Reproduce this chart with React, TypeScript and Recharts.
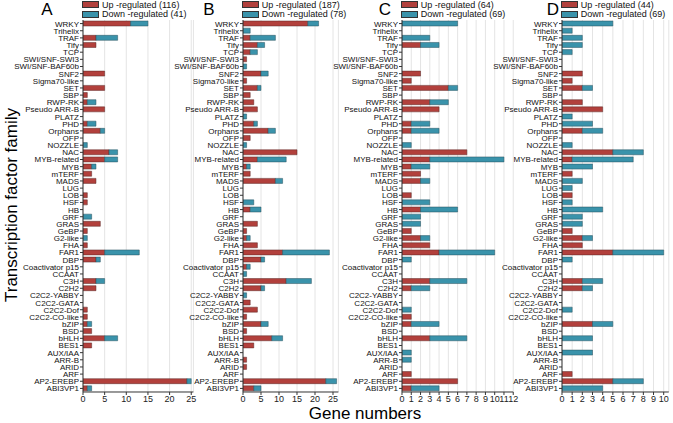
import { Bar, BarChart, CartesianGrid, XAxis, YAxis } from 'recharts'

const families = [
  'WRKY', 'Trihelix', 'TRAF', 'Tify', 'TCP', 'SWI/SNF-SWI3', 'SWI/SNF-BAF60b', 'SNF2',
  'Sigma70-like', 'SET', 'SBP', 'RWP-RK', 'Pseudo ARR-B', 'PLATZ', 'PHD', 'Orphans', 'OFP',
  'NOZZLE', 'NAC', 'MYB-related', 'MYB', 'mTERF', 'MADS', 'LUG', 'LOB', 'HSF', 'HB', 'GRF',
  'GRAS', 'GeBP', 'G2-like', 'FHA', 'FAR1', 'DBP', 'Coactivator p15', 'CCAAT', 'C3H', 'C2H2',
  'C2C2-YABBY', 'C2C2-GATA', 'C2C2-Dof', 'C2C2-CO-like', 'bZIP', 'BSD', 'bHLH', 'BES1',
  'AUX/IAA', 'ARR-B', 'ARID', 'ARF', 'AP2-EREBP', 'ABI3VP1',
]

// one value per family, same order as above
const upA = [11, 0, 3, 3, 0, 0, 0, 5, 0, 5, 1, 1, 5, 0, 1, 4, 0, 0, 6, 5, 2, 2, 3, 0, 1, 1, 0, 0, 4, 1, 0, 1, 5, 3, 0, 0, 3, 3, 0, 0, 1, 1, 1, 2, 5, 2, 0, 0, 0, 0, 24, 1]
const downA = [4, 0, 5, 0, 0, 0, 0, 0, 0, 0, 0, 2, 0, 0, 2, 1, 0, 1, 2, 3, 1, 0, 0, 0, 0, 0, 0, 2, 0, 0, 1, 0, 8, 1, 0, 0, 2, 0, 0, 0, 0, 0, 1, 0, 3, 0, 0, 0, 0, 0, 1, 1]
const upB = [18, 0, 2, 4, 2, 1, 0, 5, 1, 4, 2, 3, 4, 0, 3, 7, 2, 0, 15, 4, 1, 2, 9, 0, 0, 0, 2, 0, 4, 1, 1, 4, 11, 5, 1, 0, 12, 5, 0, 2, 4, 1, 5, 1, 8, 3, 0, 1, 1, 0, 23, 3]
const downB = [3, 2, 7, 2, 2, 0, 1, 2, 0, 1, 0, 0, 0, 1, 1, 2, 0, 1, 0, 8, 1, 0, 2, 0, 0, 3, 3, 0, 0, 0, 1, 0, 13, 1, 1, 1, 7, 1, 1, 0, 0, 0, 2, 0, 3, 0, 0, 0, 0, 0, 3, 2]
const upC = [0, 0, 0, 2, 0, 0, 0, 2, 1, 5, 0, 3, 4, 0, 1, 1, 0, 0, 7, 3, 1, 2, 2, 0, 1, 0, 2, 0, 0, 1, 2, 3, 4, 0, 0, 0, 3, 1, 0, 0, 0, 1, 1, 0, 3, 0, 0, 0, 0, 1, 6, 1]
const downC = [6, 0, 3, 2, 0, 0, 0, 0, 0, 1, 0, 2, 0, 0, 2, 3, 0, 1, 0, 8, 2, 0, 1, 0, 0, 3, 4, 2, 2, 0, 1, 0, 6, 1, 0, 0, 4, 2, 0, 0, 1, 0, 3, 0, 4, 0, 1, 1, 0, 0, 0, 3]
const upD = [0, 0, 0, 0, 0, 0, 0, 2, 1, 2, 0, 2, 4, 0, 0, 2, 0, 0, 5, 1, 0, 1, 0, 0, 1, 0, 0, 0, 0, 1, 2, 2, 5, 0, 0, 0, 2, 2, 0, 0, 0, 0, 3, 0, 0, 0, 0, 0, 0, 1, 5, 0]
const downD = [5, 1, 2, 2, 1, 0, 0, 0, 0, 1, 0, 0, 0, 1, 3, 2, 0, 1, 3, 6, 3, 0, 2, 1, 0, 1, 4, 2, 2, 0, 1, 0, 5, 1, 0, 0, 2, 1, 0, 0, 1, 0, 2, 0, 3, 0, 3, 0, 0, 0, 3, 4]

const ticksWide = [0, 5, 10, 15, 20, 25]
const ticksC = [0, 1, 2, 3, 4, 5, 6, 7, 8, 9, 10, 11, 12]
const ticksD = [0, 1, 2, 3, 4, 5, 6, 7, 8, 9, 10]

const UP = '#b2403c'
const DOWN = '#3a93ab'
const FONT = '"Liberation Sans", Arial, Helvetica, sans-serif'
const W = 673
const H = 423
const AXIS_W = 83
const TOP = 20
const BOTTOM = 392
const RIGHT = 8

const sum = (xs: number[]) => xs.reduce((a, b) => a + b, 0)

// plain one-line label, recharts would otherwise wrap the long names
function FamilyTick({ x, y, payload }: any) {
  return (
    <text x={x} y={y} dy={3} textAnchor="end" fontSize={8} fill="#111">
      {payload.value}
    </text>
  )
}

function LegendRow({ color, label }: { color: string; label: string }) {
  return (
    <div style={{ display: 'flex', alignItems: 'center', height: 9.5, whiteSpace: 'nowrap' }}>
      <span
        style={{
          display: 'inline-block',
          width: 15,
          height: 5,
          background: color,
          border: '1px solid #333',
          marginRight: 3,
        }}
      />
      {label}
    </div>
  )
}

type PanelProps = {
  letter: string
  letterX: number
  up: number[]
  down: number[]
  x0: number
  unit: number
  max: number
  ticks: number[]
}

function Panel({ letter, letterX, up, down, x0, unit, max, ticks }: PanelProps) {
  const data = families.map((name, i) => ({ name, up: up[i], down: down[i] }))
  const plotW = unit * max
  return (
    <>
      <div style={{ position: 'absolute', left: x0 - AXIS_W, top: 0 }}>
        <BarChart
          layout="vertical"
          width={AXIS_W + plotW + RIGHT}
          height={H}
          data={data}
          margin={{ top: TOP, right: RIGHT, bottom: H - BOTTOM - 20, left: 0 }}
          barCategoryGap="14%"
        >
          <CartesianGrid horizontal={false} stroke="#e4e4e4" />
          <XAxis
            type="number"
            domain={[0, max]}
            ticks={ticks}
            interval={0}
            height={20}
            tickSize={3}
            tickMargin={1}
            tick={{ fontSize: 9, fill: '#222' }}
            stroke="#333"
            allowDataOverflow
          />
          <YAxis
            type="category"
            dataKey="name"
            interval={0}
            width={AXIS_W}
            tickSize={3}
            tickMargin={1}
            tick={<FamilyTick />}
            stroke="#333"
          />
          <Bar dataKey="up" stackId="s" fill={UP} stroke="#5a2624" strokeWidth={0.5} isAnimationActive={false} />
          <Bar dataKey="down" stackId="s" fill={DOWN} stroke="#264f5c" strokeWidth={0.5} isAnimationActive={false} />
        </BarChart>
      </div>
      <div style={{ position: 'absolute', left: x0 - 1, top: 0, fontSize: 9, color: '#111' }}>
        <LegendRow color={UP} label={`Up -regulated (${sum(up)})`} />
        <LegendRow color={DOWN} label={`Down -regulated (${sum(down)})`} />
      </div>
      <div
        style={{
          position: 'absolute',
          left: letterX - 10,
          width: 20,
          top: 1,
          textAlign: 'center',
          fontSize: 17,
          lineHeight: '18px',
        }}
      >
        {letter}
      </div>
    </>
  )
}

export default function App() {
  return (
    <div
      style={{
        position: 'absolute',
        left: 0,
        top: 0,
        width: W,
        height: H,
        background: '#fff',
        fontFamily: FONT,
        overflow: 'hidden',
      }}
    >
      <Panel letter="A" letterX={47} up={upA} down={downA} x0={83} unit={4.33} max={25.5} ticks={ticksWide} />
      <Panel letter="B" letterX={209} up={upB} down={downB} x0={242.7} unit={3.6} max={26.5} ticks={ticksWide} />
      <Panel letter="C" letterX={385} up={upC} down={downC} x0={401.7} unit={9.27} max={12} ticks={ticksC} />
      <Panel letter="D" letterX={553} up={upD} down={downD} x0={561.7} unit={10.17} max={10.5} ticks={ticksD} />
      <div
        style={{
          position: 'absolute',
          left: 12 - 150,
          top: 205 - 10,
          width: 300,
          height: 20,
          textAlign: 'center',
          fontSize: 17,
          lineHeight: '20px',
          transform: 'rotate(-90deg)',
        }}
      >
        Transcription factor family
      </div>
      <div
        style={{
          position: 'absolute',
          left: 365 - 100,
          top: 404,
          width: 200,
          textAlign: 'center',
          fontSize: 17,
          lineHeight: '19px',
        }}
      >
        Gene numbers
      </div>
    </div>
  )
}
